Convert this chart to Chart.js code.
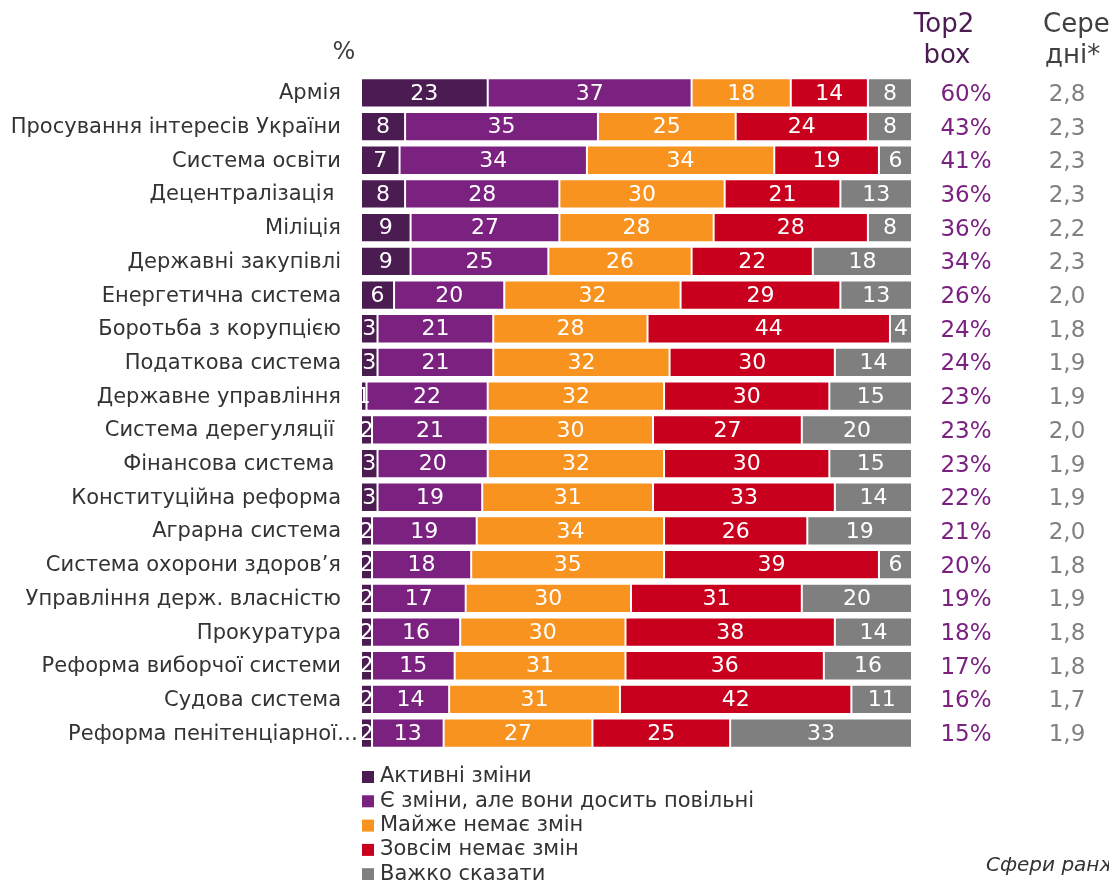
<!DOCTYPE html>
<html lang="uk">
<head>
<meta charset="UTF-8">
<title>Сфери реформ</title>
<style>
    body{ margin:0; background:#fff; }
    #wrap{ width:1109px; height:880px; position:relative; }
</style>
</head>
<body>
<div id="wrap"><canvas id="myc"></canvas></div>

<script src="https://cdn.jsdelivr.net/npm/chart.js"></script>
<script>
// categories, top to bottom
var spheres = ["Армія", "Просування інтересів України", "Система освіти", "Децентралізація ",
    "Міліція", "Державні закупівлі", "Енергетична система", "Боротьба з корупцією",
    "Податкова система", "Державне управління", "Система дерегуляції ", "Фінансова система ",
    "Конституційна реформа", "Аграрна система", "Система охорони здоров’я",
    "Управління держ. власністю", "Прокуратура", "Реформа виборчої системи",
    "Судова система", "Реформа пенітенціарної…"];

var seriesNames = ["Активні зміни", "Є зміни, але вони досить повільні", "Майже немає змін",
    "Зовсім немає змін", "Важко сказати"];

var active   = [23, 8, 7, 8, 9, 9, 6, 3, 3, 1, 2, 3, 3, 2, 2, 2, 2, 2, 2, 2];
var slow     = [37, 35, 34, 28, 27, 25, 20, 21, 21, 22, 21, 20, 19, 19, 18, 17, 16, 15, 14, 13];
var almostNo = [18, 25, 34, 30, 28, 26, 32, 28, 32, 32, 30, 32, 31, 34, 35, 30, 30, 31, 31, 27];
var none     = [14, 24, 19, 21, 28, 22, 29, 44, 30, 30, 27, 30, 33, 26, 39, 31, 38, 36, 42, 25];
var hard     = [8, 8, 6, 13, 8, 18, 13, 4, 14, 15, 20, 15, 14, 19, 6, 20, 14, 16, 11, 33];

var top2 = ["60%", "43%", "41%", "36%", "36%", "34%", "26%", "24%", "24%", "23%",
    "23%", "23%", "22%", "21%", "20%", "19%", "18%", "17%", "16%", "15%"];
var means = ["2,8", "2,3", "2,3", "2,3", "2,2", "2,3", "2,0", "1,8", "1,9", "1,9",
    "2,0", "1,9", "1,9", "2,0", "1,8", "1,9", "1,8", "1,8", "1,7", "1,9"];

var colors = ["#4b1c52", "#7b2180", "#f7931e", "#c8001e", "#7f7f7f"];
var FONT = "'DejaVu Sans', Verdana, sans-serif";

var values = [active, slow, almostNo, none, hard];
var datasets = [];
for (var i = 0; i < values.length; i++) {
    datasets.push({
        label: seriesNames[i],
        data: values[i],
        backgroundColor: colors[i],
        borderColor: "rgba(255,255,255,0.55)",
        borderWidth: 1,
        borderSkipped: false,
        categoryPercentage: 1,
        barPercentage: 0.87
    });
}

// category names, labels inside bars, right columns, headers, legend
var extras = {
    id: "extras",
    afterDatasetsDraw: function(chart) {
        var ctx = chart.ctx;
        var yScale = chart.scales.y;
        ctx.save();
        ctx.textBaseline = "middle";

        // category names (the truncated last one runs up to the bar)
        ctx.font = "21px " + FONT;
        ctx.fillStyle = "#333";
        ctx.textAlign = "right";
        for (var c = 0; c < spheres.length; c++) {
            var right = spheres[c].slice(-1) === "…" ? 358 : 341;
            ctx.fillText(spheres[c], right, yScale.getPixelForValue(c) + 1);
        }

        ctx.font = "22px " + FONT;
        ctx.fillStyle = "#fff";
        ctx.textAlign = "center";
        chart.data.datasets.forEach(function(ds, di) {
            chart.getDatasetMeta(di).data.forEach(function(bar, j) {
                var cx = (bar.x + bar.base) / 2;
                ctx.fillText(ds.data[j], cx, bar.y + 1);
            });
        });

        ctx.font = "23px " + FONT;
        for (var j = 0; j < spheres.length; j++) {
            var y = yScale.getPixelForValue(j) + 2;
            ctx.fillStyle = "#7b2180";
            ctx.fillText(top2[j], 966, y);
            ctx.fillStyle = "#808080";
            ctx.fillText(means[j], 1067, y);
        }

        // headers
        ctx.font = "26px " + FONT;
        ctx.fillStyle = "#4b1c52";
        ctx.fillText("Top2", 944, 25);
        ctx.fillText("box", 947, 56);
        ctx.fillStyle = "#404040";
        ctx.textAlign = "left";
        ctx.fillText("Сере", 1043, 25);
        ctx.fillText("дні*", 1045, 56);
        ctx.font = "24px " + FONT;
        ctx.textAlign = "center";
        ctx.fillText("%", 344, 53);

        // legend
        ctx.font = "21px " + FONT;
        ctx.textAlign = "left";
        for (var k = 0; k < seriesNames.length; k++) {
            var ly = 777 + k * 24.3;
            ctx.fillStyle = colors[k];
            ctx.fillRect(362, ly - 6, 12, 12);
            ctx.fillStyle = "#333";
            ctx.fillText(seriesNames[k], 380, ly);
        }

        ctx.font = "italic 20px " + FONT;
        ctx.fillText("Сфери ранжовано за Top2 box", 986, 866);
        ctx.restore();
    }
};

var ctx = document.getElementById("myc").getContext("2d");
var myChart = new Chart(ctx, {
    type: "bar",
    data: { labels: spheres, datasets: datasets },
    options: {
        indexAxis: "y",
        responsive: true,
        maintainAspectRatio: false,
        animation: false,
        layout: { padding: { top: 76, bottom: 130, right: 197, left: 0 } },
        plugins: { legend: { display: false }, tooltip: { enabled: false } },
        scales: {
            x: { stacked: true, min: 0, max: 100, display: false },
            y: {
                stacked: true,
                grid: { display: false },
                border: { display: false },
                ticks: { display: false },
                afterFit: function(s) { s.width = 361; }
            }
        }
    },
    plugins: [extras]
});
</script>
</body>
</html>
